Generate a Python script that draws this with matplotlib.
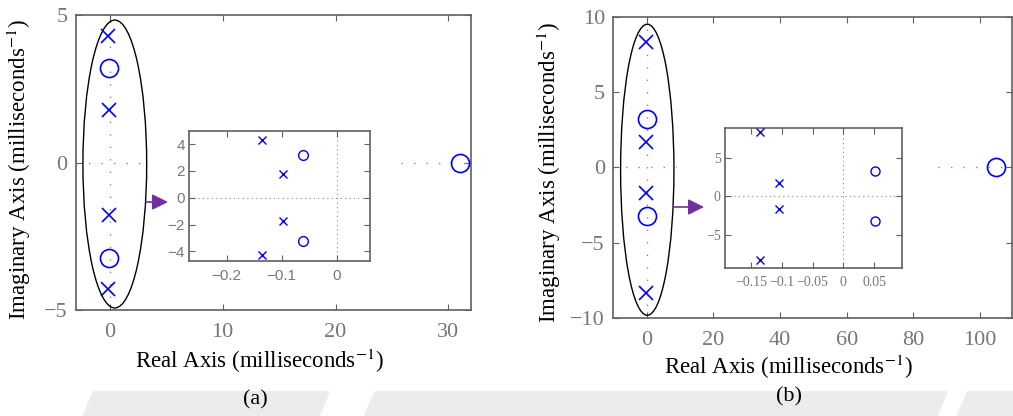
import matplotlib.pyplot as plt
from matplotlib.patches import Ellipse, Rectangle, FancyArrowPatch, Polygon

plt.rcParams['font.family'] = ['Liberation Serif', 'DejaVu Serif']
plt.rcParams['mathtext.fontset'] = 'stix'

# pole / zero locations (milliseconds^-1)
a_pole_re = [-0.135, -0.098, -0.098, -0.135]
a_pole_im = [4.3, 1.77, -1.77, -4.3]
a_zero_re = [-0.061, -0.061, 31.0]
a_zero_im = [3.22, -3.22, 0.0]

b_pole_re = [-0.136, -0.105, -0.105, -0.136]
b_pole_im = [8.35, 1.68, -1.68, -8.35]
b_zero_re = [0.052, 0.052, 104.8]
b_zero_im = [3.2, -3.2, 0.0]

a_xticks = [0, 10, 20, 30]
a_yticks = [-5, 0, 5]
a_in_xticks = [-0.2, -0.1, 0]
a_in_xlabels = ['\u22120.2', '\u22120.1', '0']
a_in_yticks = [-4, -2, 0, 2, 4]
b_xticks = [0, 20, 40, 60, 80, 100]
b_yticks = [-10, -5, 0, 5, 10]
b_in_xticks = [-0.15, -0.1, -0.05, 0, 0.05]
b_in_xlabels = ['\u22120.15', '\u22120.1', '\u22120.05', '0', '0.05']
b_in_yticks = [-5, 0, 5]

BLUE = '#0000ff'
SPINE = '#606060'
TICK = '#777777'
PURPLE = '#7030a0'

fig = plt.figure(figsize=(10.13, 4.16), dpi=100)


def style(ax, size, font, pad_x, pad_y):
    for s in ax.spines.values():
        s.set_color(SPINE)
        s.set_linewidth(1.2)
    ax.tick_params(direction='in', top=True, right=True, length=4, width=0.8,
                   color=SPINE, labelcolor=TICK, labelsize=size)
    ax.tick_params(axis='x', pad=pad_x)
    ax.tick_params(axis='y', pad=pad_y)
    for lab in ax.get_xticklabels() + ax.get_yticklabels():
        lab.set_family(font)


def zero_lines(ax, dash, lw):
    ax.axhline(0, color='#888888', lw=lw, ls=dash, zorder=1)
    ax.axvline(0, color='#888888', lw=lw, ls=dash, zorder=1)


def main_panel(rect, pr, pi, zr, zi, xlim, ylim, xt, yt, ell, mask, lab_xy):
    ax = fig.add_axes(rect)
    zero_lines(ax, (0, (1, 8)), 1.0)
    # blank strip behind the inset so the real-axis dots stop at its edges
    ax.add_patch(Rectangle((mask[0], mask[2]), mask[1] - mask[0], mask[3] - mask[2],
                           color='white', zorder=2))
    ax.plot(pr, pi, 'x', color=BLUE, ms=10, mew=1.2, zorder=4)
    ax.plot(zr, zi, 'o', mfc='none', mec=BLUE, ms=13, mew=1.2, zorder=4)
    ax.add_patch(Ellipse(ell[:2], ell[2], ell[3], fill=False, ec='black', lw=1.0, zorder=3))
    ax.set_xlim(*xlim)
    ax.set_ylim(*ylim)
    ax.set_xticks(xt)
    ax.set_yticks(yt)
    style(ax, 16, ['Liberation Serif'], 9, 6)
    ax.set_xlabel(r'Real Axis (milliseconds$^{-1}$)', fontsize=16.5)
    ax.set_ylabel(r'Imaginary Axis (milliseconds$^{-1}$)', fontsize=16.5)
    ax.xaxis.set_label_coords(lab_xy[0], lab_xy[1])
    ax.yaxis.set_label_coords(lab_xy[2], lab_xy[3])
    return ax


def inset(rect, pr, pi, zr, zi, xlim, ylim, xt, xl, yt, font, size, ms):
    ax = fig.add_axes(rect)
    zero_lines(ax, (0, (1, 3)), 0.8)
    ax.plot(pr, pi, 'x', color=BLUE, ms=ms[0], mew=1.0, zorder=4)
    ax.plot(zr[:2], zi[:2], 'o', mfc='none', mec=BLUE, ms=ms[1], mew=1.0, zorder=4)
    ax.set_xlim(*xlim)
    ax.set_ylim(*ylim)
    ax.set_xticks(xt)
    ax.set_xticklabels(xl)
    ax.set_yticks(yt)
    style(ax, size, font, 6, 3)
    return ax


# panel (a)
main_panel([0.075, 0.2548, 0.39, 0.709], a_pole_re, a_pole_im, a_zero_re, a_zero_im,
           (-3, 32), (-5, 5), a_xticks, a_yticks,
           (0.44, -0.05, 5.65, 9.76), (3.35, 24.8, -3.5, 1.2),
           (0.463, -0.125, -0.109, 0.475))
inset([0.1866, 0.3726, 0.1787, 0.3125], a_pole_re, a_pole_im, a_zero_re, a_zero_im,
      (-0.2685, 0.0605), (-4.72, 4.98), a_in_xticks, a_in_xlabels, a_in_yticks,
      ['Liberation Sans'], 11, (5.5, 7))

# panel (b)
main_panel([0.6054, 0.2349, 0.3936, 0.725], b_pole_re, b_pole_im, b_zero_re, b_zero_im,
           (-10, 109.6), (-10, 10), b_xticks, b_yticks,
           (0.2, -0.15, 16.0, 19.3), (9.1, 84.4, -6.0, 4.0),
           (0.438, -0.115, -0.126, 0.482))
inset([0.7157, 0.3565, 0.175, 0.3365], b_pole_re, b_pole_im, b_zero_re, b_zero_im,
      (-0.1927, 0.096), (-9.31, 8.87), b_in_xticks, b_in_xlabels, b_in_yticks,
      ['Liberation Serif'], 10, (5.5, 6.5))

# arrows pointing from the circled cluster to the zoomed view
for (x0, x1, y) in [(0.1441, 0.1658, 0.5144), (0.6644, 0.695, 0.5024)]:
    fig.patches.append(FancyArrowPatch((x0, y), (x1, y), transform=fig.transFigure,
                                       arrowstyle='-|>', mutation_scale=24,
                                       color=PURPLE, lw=1.2, shrinkA=0, shrinkB=0))

# light grey band along the bottom edge
for xs in [(0.082, 0.315), (0.36, 0.925), (0.945, 1.0)]:
    fig.patches.append(Polygon([(xs[0], 0), (xs[0] + 0.01, 0.058), (xs[1] + 0.01, 0.058),
                                (xs[1], 0)], closed=True, transform=fig.transFigure,
                               color='#ececec', zorder=-1))

fig.text(0.2517, 0.038, '(a)', ha='center', va='center', fontsize=16)
fig.text(0.779, 0.046, '(b)', ha='center', va='center', fontsize=16)

fig.savefig('out.png', dpi=100)
